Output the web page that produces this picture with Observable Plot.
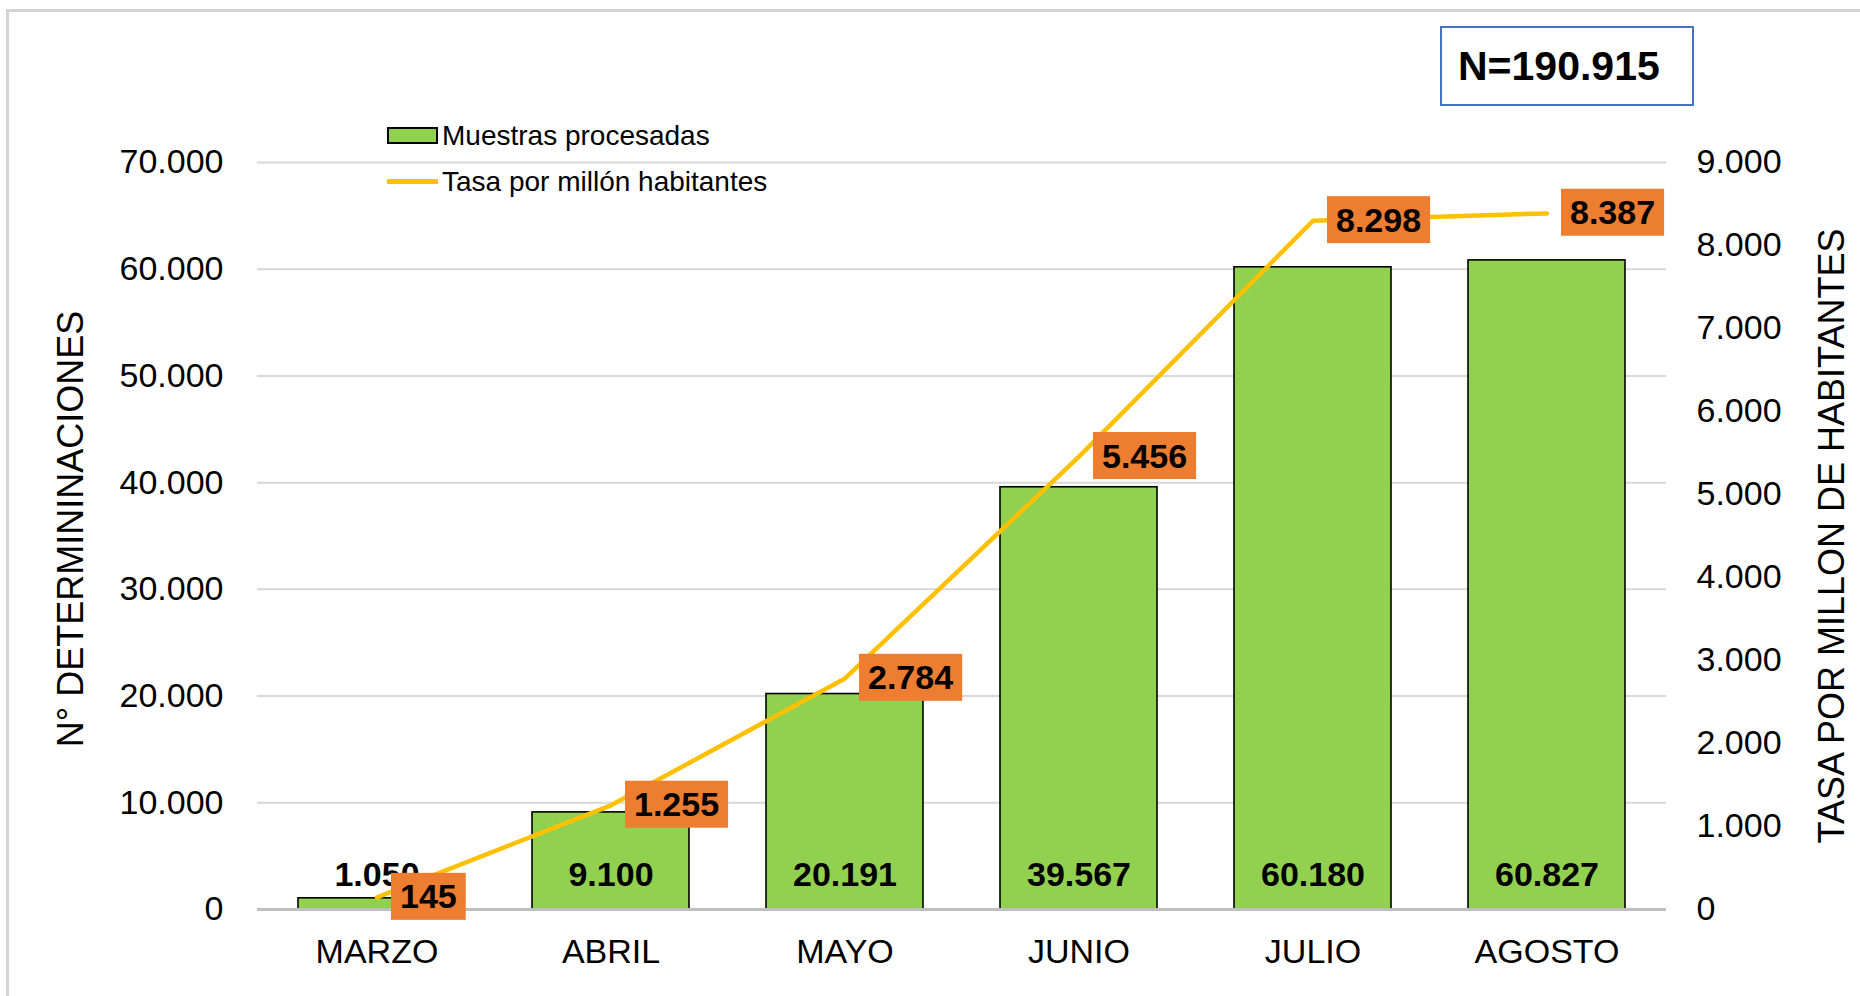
<!DOCTYPE html>
<html><head><meta charset="utf-8">
<script src="https://cdn.jsdelivr.net/npm/d3@7"></script>
<script src="https://cdn.jsdelivr.net/npm/@observablehq/plot@0.6"></script>
<style>
html,body{margin:0;padding:0;background:#fff;}
#wrap{position:relative;width:1860px;height:996px;overflow:hidden;font-family:"Liberation Sans",Arial,sans-serif;color:#000;}
#frame{position:absolute;left:6px;top:9px;right:-10px;bottom:-10px;border-left:3px solid #D4D4D4;border-top:3px solid #D4D4D4;pointer-events:none;}
.lg{position:absolute;font-size:28px;line-height:32px;white-space:nowrap;}
.sw1{position:absolute;left:387px;top:127px;width:47px;height:13px;background:#92D050;border:2px solid #000;}
.sw2{position:absolute;left:387px;top:179px;width:51px;height:5px;background:#FFC000;}
#nbox{position:absolute;left:1440px;top:26px;width:234px;height:76px;border:2.5px solid #4472C4;font-weight:bold;font-size:41px;line-height:76px;padding-left:16px;box-sizing:content-box;}
</style></head><body>
<div id="wrap"><div id="frame"></div></div>
<script>
// ---- data ----
const meses = ["MARZO", "ABRIL", "MAYO", "JUNIO", "JULIO", "AGOSTO"];
const muestras = [1050, 9100, 20191, 39567, 60180, 60827];
const tasa = [145, 1255, 2784, 5456, 8298, 8387];
const leftTicks = [0, 10000, 20000, 30000, 40000, 50000, 60000, 70000];
const rightTicks = [0, 1000, 2000, 3000, 4000, 5000, 6000, 7000, 8000, 9000];
const totalN = 190915;
const serieBarras = "Muestras procesadas";
const serieLinea = "Tasa por millón habitantes";
const tituloIzq = "N° DETERMININACIONES";
const tituloDer = "TASA POR MILLON DE HABITANTES";

// ---- build ----
const loc = d3.formatLocale({decimal: ",", thousands: ".", grouping: [3], currency: ["", ""]});
const fmt = loc.format(",d");
const leftMax = leftTicks[leftTicks.length - 1];
const rightMax = rightTicks[rightTicks.length - 1];
const K = leftMax / rightMax; // map right axis onto left scale
const data = meses.map((m, i) => ({mes: m, muestras: muestras[i], tasa: tasa[i]}));

const FONT = "'Liberation Sans', Arial, sans-serif";
const chart = Plot.plot({
  width: 1860,
  height: 996,
  marginLeft: 257,
  marginRight: 194,
  marginTop: 162,
  marginBottom: 87,
  style: {fontFamily: FONT, fontSize: "34px", color: "#000", background: "transparent"},
  x: {domain: meses, paddingInner: 0.33, paddingOuter: 0.165, label: null},
  y: {domain: [0, leftMax], label: null},
  marks: [
    Plot.gridY(leftTicks.filter(v => v > 0), {stroke: "#D9D9D9", strokeOpacity: 1, strokeWidth: 2}),
    Plot.barY(data, {x: "mes", y: "muestras", fill: "#92D050", stroke: "#000", strokeWidth: 1.6}),
    Plot.ruleY([0], {stroke: "#BFBFBF", strokeWidth: 3}),
    Plot.axisY(leftTicks, {anchor: "left", tickSize: 0, tickPadding: 34, fontSize: 34, tickFormat: fmt, label: null}),
    Plot.axisY(rightTicks.map(v => v * K), {anchor: "right", tickSize: 0, tickPadding: 30, fontSize: 34,
      tickFormat: v => fmt(Math.round(v / K)), label: null}),
    Plot.axisX({tickSize: 0, tickPadding: 29, fontSize: 34, label: null}),
    Plot.text([tituloIzq], {frameAnchor: "left", textAnchor: "middle", lineAnchor: "middle", rotate: -90,
      dx: -186, dy: -7, fontSize: 36, fill: "#000"}),
    Plot.text([tituloDer], {frameAnchor: "right", textAnchor: "middle", lineAnchor: "middle", rotate: -90,
      dx: 166, dy: 0, fontSize: 36, fill: "#000"}),
    Plot.text(data, {x: "mes", y: () => 0, text: d => fmt(d.muestras), dy: -34,
      fontWeight: "bold", fontSize: 34, fill: "#000"}),
    Plot.line(data, {x: "mes", y: d => d.tasa * K, stroke: "#FFC000", strokeWidth: 4.5}),
    Plot.text(data, {x: "mes", y: d => d.tasa * K, text: d => fmt(d.tasa), textAnchor: "start", dx: 23,
      fontWeight: "bold", fontSize: 34, fill: "#000"})
  ]
});

const wrap = document.getElementById("wrap");
chart.style.position = "absolute";
chart.style.left = "0";
chart.style.top = "0";
wrap.append(chart);

// orange label boxes behind the rate labels
const tasaStr = fmt(tasa[0]);
const groups = Array.from(chart.querySelectorAll("g")).filter(g => {
  const ts = g.querySelectorAll(":scope > text");
  return ts.length === tasa.length && ts[0].textContent === tasaStr;
});
groups.forEach(lg => {
  lg.querySelectorAll(":scope > text").forEach(t => {
    const b = t.getBBox();
    const r = document.createElementNS("http://www.w3.org/2000/svg", "rect");
    r.setAttribute("x", b.x - 9);
    r.setAttribute("y", b.y - 4.5);
    r.setAttribute("width", b.width + 18);
    r.setAttribute("height", b.height + 9);
    r.setAttribute("fill", "#ED7D31");
    r.setAttribute("stroke", "none");
    if (t.getAttribute("transform")) r.setAttribute("transform", t.getAttribute("transform"));
    lg.insertBefore(r, t);
  });
});

// legend
const leg = document.createElement("div");
leg.innerHTML = `<div class="sw1"></div><div class="lg" style="left:442px;top:120px">${serieBarras}</div>
<div class="sw2"></div><div class="lg" style="left:442px;top:166px">${serieLinea}</div>`;
wrap.append(leg);

// N box
const nb = document.createElement("div");
nb.id = "nbox";
nb.textContent = "N=" + fmt(totalN);
wrap.append(nb);
</script>
</body></html>
